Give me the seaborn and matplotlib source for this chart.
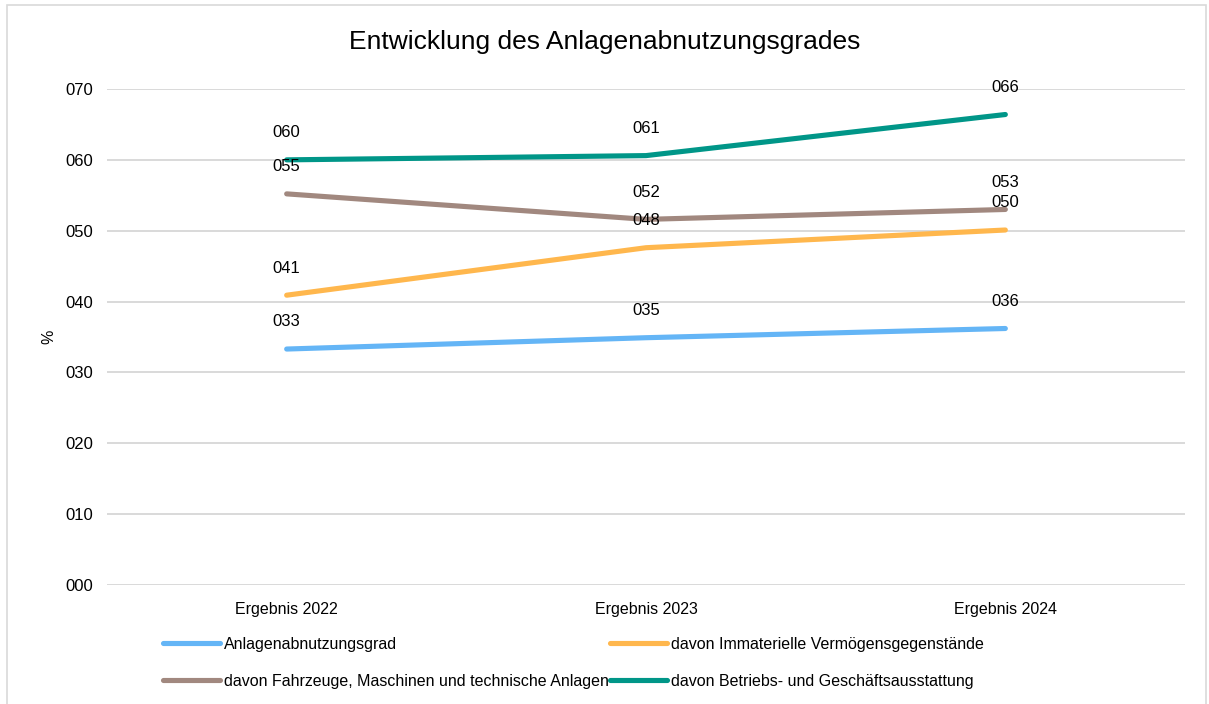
import matplotlib
matplotlib.use("Agg")
import matplotlib.pyplot as plt
from matplotlib.patches import Rectangle
import seaborn as sns
import pandas as pd

categories = ["Ergebnis 2022", "Ergebnis 2023", "Ergebnis 2024"]
series_names = [
    "Anlagenabnutzungsgrad",
    "davon Immaterielle Vermögensgegenstände",
    "davon Fahrzeuge, Maschinen und technische Anlagen",
    "davon Betriebs- und Geschäftsausstattung",
]
anlagenabnutzungsgrad = [33.3, 34.9, 36.2]
immaterielle = [40.9, 47.6, 50.1]
fahrzeuge_maschinen = [55.2, 51.6, 53.0]
betriebs_geschaeft = [60.0, 60.6, 66.4]
colors = ["#64b5f6", "#ffb74d", "#a1887f", "#009688"]
y_ticks = [0, 10, 20, 30, 40, 50, 60, 70]

sns.set_theme(style="white")
plt.rcParams["font.family"] = ["Liberation Sans", "DejaVu Sans"]

rows = []
for name, vals in zip(series_names, [anlagenabnutzungsgrad, immaterielle,
                                     fahrzeuge_maschinen, betriebs_geschaeft]):
    for i, (cat, v) in enumerate(zip(categories, vals)):
        rows.append({"Kategorie": cat, "pos": i, "Wert": v, "Reihe": name})
df = pd.DataFrame(rows)

fig = plt.figure(figsize=(12.09, 7.04), dpi=100)
ax = fig.add_axes([107 / 1209, 1 - 585 / 704, (1185 - 107) / 1209, (585 - 89) / 704])

sns.lineplot(data=df, x="pos", y="Wert", hue="Reihe", hue_order=series_names,
             palette=colors, linewidth=3.7, ax=ax, legend=False,
             solid_capstyle="round")

# value labels above each point
for _, r in df.iterrows():
    ax.annotate(f"{round(r['Wert']):03d}", (r["pos"], r["Wert"]),
                xytext=(0, 19.5), textcoords="offset points",
                ha="center", va="center", fontsize=12, color="#000000")

ax.set_xlim(-0.5, 2.5)
ax.set_ylim(0, 70)
ax.set_xticks(range(len(categories)))
ax.set_xticklabels(categories, fontsize=11.5, color="#000000")
ax.set_yticks(y_ticks)
ax.set_yticklabels([f"{t:03d}" for t in y_ticks], fontsize=12, color="#000000")
ax.tick_params(axis="both", length=0)
ax.tick_params(axis="y", pad=10)
ax.tick_params(axis="x", pad=12)
ax.grid(axis="y", color="#d9d9d9", linewidth=1.4)
ax.set_axisbelow(True)
for s in ax.spines.values():
    s.set_visible(False)
ax.set_xlabel("")
ax.set_ylabel("%", fontsize=11.5, color="#000000")
ax.yaxis.set_label_coords((56 - 107) / 1078, 0.5)

fig.text(0.5, 1 - 42 / 704, "Entwicklung des Anlagenabnutzungsgrades",
         ha="center", va="center", fontsize=19, color="#000000")

# legend filled row by row: two entries per row
order = [0, 2, 1, 3]
handles = [plt.Line2D([], [], color=colors[i], linewidth=3.7, solid_capstyle="round")
           for i in order]
labels = [series_names[i] for i in order]
leg = fig.legend(handles, labels, loc="upper left",
                 bbox_to_anchor=(163 / 1209, 1 - 637 / 704), ncol=2, frameon=False,
                 fontsize=11.5, handlelength=3.55, handletextpad=0.25,
                 columnspacing=0.1, labelspacing=1.35, borderpad=0, borderaxespad=0)
for t in leg.get_texts():
    t.set_color("#000000")

fig.patches.append(Rectangle((6.5 / 1209, -0.05), (1206 - 6.5) / 1209, 1.05 - 4.5 / 704,
                             transform=fig.transFigure, fill=False,
                             edgecolor="#d9d9d9", linewidth=1.2))

fig.savefig("out.png", dpi=100, facecolor="white")
